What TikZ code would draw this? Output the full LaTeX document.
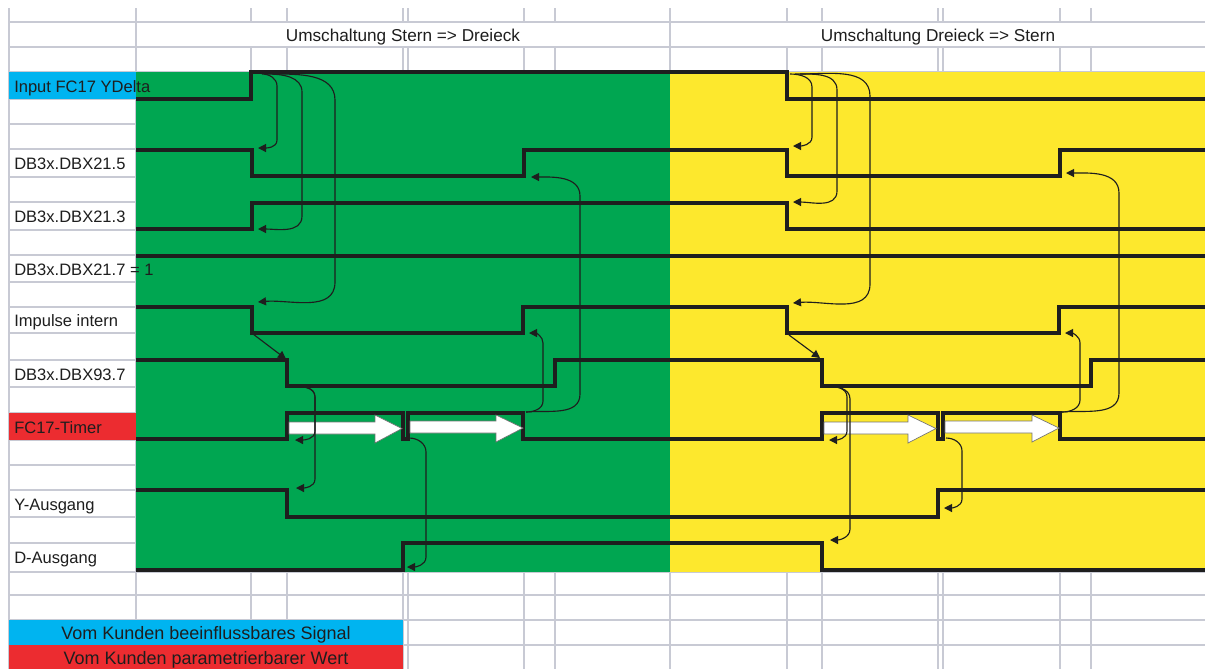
\documentclass[tikz,border=0pt]{standalone}
\usepackage{fontspec}
\setmainfont{Liberation Sans}
\usetikzlibrary{arrows.meta}
\definecolor{gfill}{RGB}{0,166,81}
\definecolor{yfill}{RGB}{253,232,45}
\definecolor{bfill}{RGB}{0,180,240}
\definecolor{rfill}{RGB}{236,44,48}
\definecolor{gridc}{RGB}{200,202,212}
\definecolor{ink}{RGB}{30,30,30}
\begin{document}
\begin{tikzpicture}[x=0.75pt,y=-0.75pt,
  gridline/.style={draw=gridc, line width=0.9pt},
  sig/.style={draw=ink, line width=2.6pt, line join=miter, line cap=butt},
  link/.style={draw=ink, line width=0.85pt, -{Triangle[length=6pt,width=6pt]}},
  blockarr/.style={fill=white, draw=black!55, line width=0.5pt},
  lbl/.style={anchor=base west, font=\fontsize{12.4}{14}\selectfont, text=ink, inner sep=0pt},
  head/.style={anchor=base, font=\fontsize{12.9}{15}\selectfont, text=ink, inner sep=0pt},
  legend/.style={anchor=base, font=\fontsize{13.5}{15}\selectfont, text=ink, inner sep=0pt}]
\useasboundingbox (0,0) rectangle (1205,669);
\fill[white] (0,0) rectangle (1205,669);
% grid
\foreach \yy in {22,47,72,99,124,149,177,202,230,255,282,307,333,360,387,413,440,465,490,517,543,572,595,620,645}
  \draw[gridline] (9,\yy) -- (1205,\yy);
\foreach \xx in {9,136,670}
  \draw[gridline] (\xx,8) -- (\xx,669);
\foreach \xx in {251,287,403,408,524,555,787,822,938,943,1060,1091}
  {\draw[gridline] (\xx,8) -- (\xx,22); \draw[gridline] (\xx,47) -- (\xx,669);}
% fills
\fill[gfill] (136,72) rectangle (670,572);
\fill[yfill] (670,72) rectangle (1205,572);
\fill[bfill] (9,72) rectangle (136,99);
\fill[rfill] (9,413) rectangle (136,440);
\fill[bfill] (9,620) rectangle (403,645);
\fill[rfill] (9,645) rectangle (403,669);
% signals
\draw[sig] (136,99) -- (251,99) -- (251,72) -- (787,72) -- (787,99) -- (1205,99);
\draw[sig] (136,150) -- (252,150) -- (252,176) -- (524,176) -- (524,150) -- (787,150) -- (787,176) -- (1060,176) -- (1060,150) -- (1205,150);
\draw[sig] (136,229) -- (252,229) -- (252,203) -- (787,203) -- (787,229) -- (1205,229);
\draw[sig] (136,256) -- (1205,256);
\draw[sig] (136,307) -- (252,307) -- (252,333) -- (523,333) -- (523,307) -- (787,307) -- (787,333) -- (1059,333) -- (1059,307) -- (1205,307);
\draw[sig] (136,360) -- (287,360) -- (287,386) -- (555,386) -- (555,360) -- (822,360) -- (822,386) -- (1091,386) -- (1091,360) -- (1205,360);
\draw[sig] (136,439) -- (287,439) -- (287,413) -- (403,413) -- (403,439) -- (408,439) -- (408,413) -- (523,413) -- (523,439)
  -- (822,439) -- (822,413) -- (938,413) -- (938,439) -- (943,439) -- (943,413) -- (1060,413) -- (1060,439) -- (1205,439);
\draw[sig] (136,490) -- (287,490) -- (287,517) -- (938,517) -- (938,490) -- (1205,490);
\draw[sig] (136,570) -- (403,570) -- (403,543) -- (822,543) -- (822,570) -- (1205,570);
% block arrows
\filldraw[blockarr] (289,422) -- (375,422) -- (375,415) -- (402,428.5) -- (375,443) -- (375,434) -- (289,434) -- cycle;
\filldraw[blockarr] (410,421) -- (496,421) -- (496,415) -- (523,428) -- (496,442) -- (496,433) -- (410,433) -- cycle;
\filldraw[blockarr] (824,422) -- (908,422) -- (908,415) -- (936,428.5) -- (908,443) -- (908,434) -- (824,434) -- cycle;
\filldraw[blockarr] (945,421) -- (1032,421) -- (1032,415) -- (1059,428) -- (1032,442) -- (1032,433) -- (945,433) -- cycle;
% connectors, Stern => Dreieck
\draw[link] (262,74) to[out=0,in=90] (277,86) -- (277,140) to[out=-90,in=0] (258,148);
\draw[link] (267,74) to[out=0,in=90] (302,92) -- (302,216) to[out=-90,in=0] (258,229);
\draw[link] (272,74) to[out=0,in=90] (335,100) -- (335,282) to[out=-90,in=5] (258,302);
\draw[link] (253,334) -- (286,359);
\draw[link] (291,386) to[out=0,in=90] (315,397) -- (315,431) to[out=-90,in=0] (295,440);
\draw[link] (291,386) to[out=0,in=90] (315,397) -- (315,479) to[out=-90,in=0] (296,488);
\draw[link] (409,438) to[out=0,in=90] (426,452) -- (426,557) to[out=-90,in=0] (407,567);
\draw[link] (526,412) to[out=0,in=-90] (543,401) -- (543,343) to[out=90,in=0] (529,333);
\draw[link] (526,412) to[out=5,in=-90] (580,394) -- (580,196) to[out=90,in=0] (531,177);
% connectors, Dreieck => Stern
\draw[link] (790,74) to[out=0,in=90] (812,87) -- (812,137) to[out=-90,in=0] (793,146);
\draw[link] (795,74) to[out=0,in=90] (837,90) -- (837,191) to[out=-90,in=0] (793,202);
\draw[link] (800,74) to[out=0,in=90] (870,96) -- (870,284) to[out=-90,in=5] (793,303);
\draw[link] (789,335) -- (820,358);
\draw[link] (826,386) to[out=0,in=90] (847,397) -- (847,431) to[out=-90,in=0] (829,440);
\draw[link] (826,386) to[out=0,in=90] (850,399) -- (850,529) to[out=-90,in=0] (830,540);
\draw[link] (946,438) to[out=0,in=90] (962,451) -- (962,499) to[out=-90,in=0] (944,508);
\draw[link] (1062,412) to[out=0,in=-90] (1080,400) -- (1080,343) to[out=90,in=0] (1065,333);
\draw[link] (1062,412) to[out=5,in=-90] (1119,393) -- (1119,193) to[out=90,in=0] (1066,173);
% header texts
\node[head] (h1) at (403,41) {Umschaltung Stern => Dreieck};
\node[head] (h2) at (938,41) {Umschaltung Dreieck => Stern};
% labels
\node[lbl] (l1) at (14,92) {Input FC17 YDelta};
\node[lbl] (l2) at (14,169.5) {DB3x.DBX21.5};
\node[lbl] (l3) at (14,222.5) {DB3x.DBX21.3};
\node[lbl] (l4) at (14,275) {DB3x.DBX21.7 = 1};
\node[lbl] (l5) at (14,326.5) {Impulse intern};
\node[lbl] (l6) at (14,380) {DB3x.DBX93.7};
\node[lbl] (l7) at (14,433) {FC17-Timer};
\node[lbl] (l8) at (14,510) {Y-Ausgang};
\node[lbl] (l9) at (14,563) {D-Ausgang};
% legend
\node[legend] (g1) at (206,639.5) {Vom Kunden beeinflussbares Signal};
\node[legend] (g2) at (206,664) {Vom Kunden parametrierbarer Wert};
\end{tikzpicture}
\end{document}
